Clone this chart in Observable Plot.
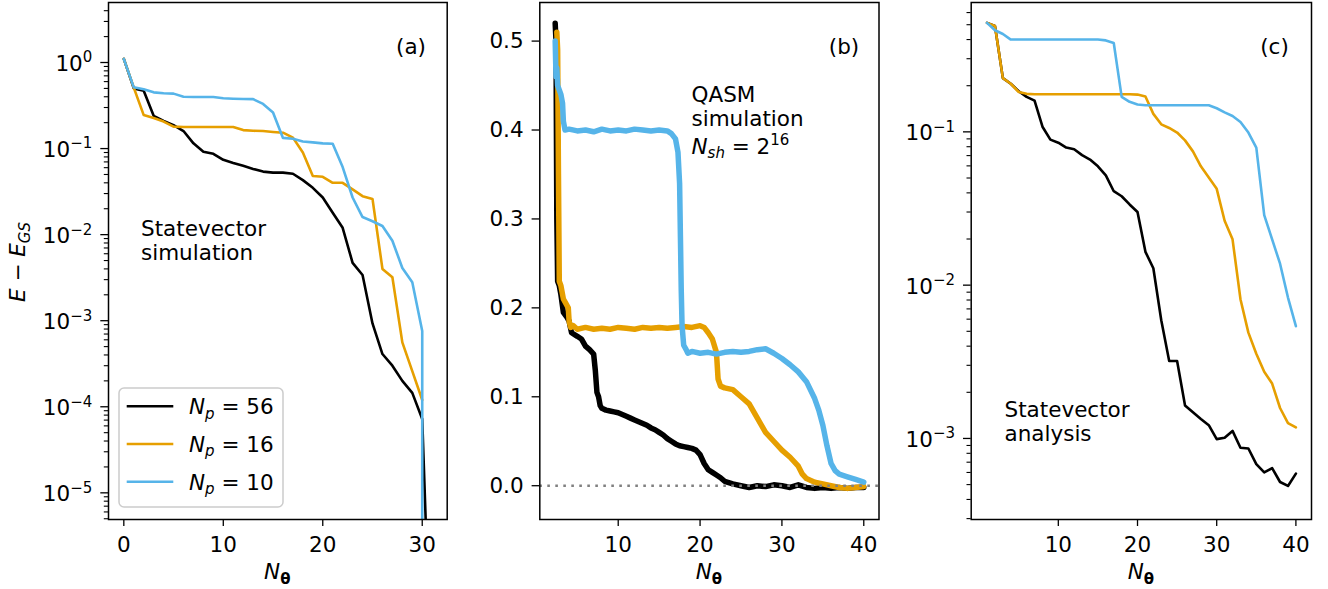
<!DOCTYPE html>
<html><head><meta charset="utf-8">
<script src="https://cdn.jsdelivr.net/npm/d3@7"></script>
<script src="https://cdn.jsdelivr.net/npm/@observablehq/plot@0.6"></script>
<style>
body{margin:0;background:#fff;}
#wrap{position:relative;width:1328px;height:589px;overflow:hidden;background:#fff;font-family:"DejaVu Sans",sans-serif;}
#wrap svg{position:absolute;top:0;}
</style></head>
<body><div id="wrap"></div>
<script>
// ---------- series ----------
const seriesNp = ["56", "16", "10"];
const seriesColors = ["#000000", "#E69F00", "#56B4E9"];

// ---------- panel (a): statevector simulation ----------
const aX56 = [0,1,2,3,4,5,6,7,8,9,10,11,12,13,14,15,16,17,18,19,20,21,22,23,24,25,26,27,28,29,30,31];
const aY56 = [1.1,0.50,0.47,0.24,0.21,0.187,0.16,0.115,0.092,0.087,0.074,0.068,0.063,0.058,0.054,0.0525,0.0525,0.051,0.043,0.035,0.027,0.018,0.012,0.0047,0.0034,0.00093,0.00041,0.0003,0.0002,0.000145,0.000072,3e-8];
const aX16 = [0,1,2,3,4,5,6,7,8,9,10,11,12,13,14,15,16,17,18,19,20,21,22,23,24,25,26,27,28,29,30];
const aY16 = [1.1,0.51,0.245,0.226,0.206,0.18,0.178,0.178,0.178,0.178,0.178,0.178,0.164,0.161,0.16,0.156,0.153,0.134,0.09,0.048,0.047,0.040,0.040,0.0335,0.028,0.026,0.004,0.0032,0.00056,0.00026,0.00012];
const aX10 = [0,1,2,3,4,5,6,7,8,9,10,11,12,13,14,15,16,17,18,19,20,21,22,23,24,25,26,27,28,29,30,30];
const aY10 = [1.1,0.515,0.49,0.45,0.44,0.435,0.40,0.397,0.397,0.397,0.385,0.38,0.377,0.375,0.33,0.263,0.133,0.13,0.121,0.118,0.115,0.114,0.061,0.027,0.016,0.0143,0.0126,0.0085,0.0041,0.0028,0.00076,1e-9];

// ---------- panel (b): QASM simulation ----------
const bX56 = [2.3,2.4,2.5,2.6,2.8,3.0,3.3,3.7,4.0,4.3,5,5.5,6,6.5,7.0,7.2,7.4,7.6,7.8,8,8.5,9,9.5,10,10.5,11,11.5,12,12.5,13,13.5,14,14.5,15,15.5,16,16.5,17,17.5,18,18.5,19,19.5,20,20.5,21,21.5,22,22.5,23,24,25,26,27,28,29,30,31,32,33,34,35,36,37,38,39,40];
const bY56 = [0.52,0.50,0.30,0.23,0.225,0.215,0.195,0.19,0.185,0.172,0.168,0.165,0.157,0.153,0.148,0.13,0.105,0.10,0.09,0.087,0.085,0.084,0.083,0.082,0.08,0.078,0.076,0.074,0.072,0.07,0.068,0.065,0.063,0.06,0.057,0.053,0.05,0.047,0.045,0.044,0.043,0.042,0.04,0.035,0.025,0.018,0.015,0.012,0.009,0.005,0.002,0.0,-0.002,0.0,-0.001,0.001,0.0,-0.002,0.001,-0.002,-0.003,-0.002,-0.003,-0.002,-0.003,-0.002,-0.002];
const bX16 = [2.5,2.6,2.7,2.8,3.0,3.3,3.6,3.9,4.0,4.2,4.5,5,6,7,8,9,10,11,12,13,14,15,16,17,18,19,20,20.5,21,21.5,22,22.2,22.5,23,24,25,26,27,28,29,30,31,32,32.5,33,34,35,36,37,38,39,40];
const bY16 = [0.51,0.49,0.35,0.23,0.225,0.21,0.205,0.20,0.185,0.178,0.18,0.176,0.178,0.176,0.177,0.176,0.178,0.177,0.176,0.178,0.177,0.178,0.177,0.178,0.179,0.178,0.18,0.178,0.172,0.165,0.15,0.12,0.112,0.11,0.108,0.10,0.092,0.076,0.06,0.05,0.04,0.032,0.022,0.013,0.008,0.004,0.002,0.0,-0.002,-0.003,-0.002,-0.001];
const bX10 = [2.3,2.4,2.5,2.6,2.8,3.0,3.2,3.3,3.5,4,5,6,7,8,9,10,11,12,13,14,15,16,16.5,17,17.3,17.5,17.6,17.7,17.8,18,18.3,18.5,19,20,21,22,23,24,25,26,27,28,29,30,31,32,33,34,34.5,35,35.5,36,36.5,37,38,39,40];
const bY10 = [0.50,0.46,0.47,0.45,0.445,0.44,0.43,0.41,0.40,0.401,0.399,0.400,0.398,0.401,0.399,0.400,0.399,0.401,0.400,0.399,0.400,0.399,0.396,0.39,0.375,0.34,0.28,0.22,0.18,0.158,0.153,0.149,0.151,0.149,0.150,0.148,0.150,0.151,0.150,0.151,0.153,0.154,0.149,0.143,0.136,0.128,0.117,0.098,0.085,0.068,0.045,0.025,0.017,0.013,0.010,0.007,0.004];
const bZero = [0];

// ---------- panel (c): statevector analysis ----------
const cX = [1,2,3,4,5,6,7,8,9,10,11,12,13,14,15,16,17,18,19,20,21,22,23,24,25,26,27,28,29,30,31,32,33,34,35,36,37,38,39,40];
const cY56 = [0.514,0.49,0.224,0.206,0.184,0.169,0.16,0.108,0.089,0.085,0.079,0.077,0.0705,0.066,0.0596,0.052,0.041,0.038,0.0336,0.030,0.0165,0.0129,0.0059,0.0032,0.0032,0.00164,0.00148,0.00134,0.00122,0.00099,0.00101,0.00112,0.00087,0.00086,0.00068,0.0006,0.00064,0.00052,0.00049,0.00059];
const cY16 = [0.514,0.49,0.224,0.206,0.182,0.177,0.176,0.176,0.176,0.176,0.176,0.176,0.176,0.176,0.176,0.176,0.176,0.176,0.176,0.175,0.17,0.131,0.112,0.106,0.099,0.088,0.0746,0.0596,0.0503,0.0425,0.0263,0.0199,0.0081,0.0049,0.00357,0.00272,0.00228,0.00158,0.00126,0.00118];
const cY10 = [0.514,0.46,0.435,0.40,0.40,0.40,0.40,0.40,0.40,0.40,0.40,0.40,0.40,0.40,0.40,0.395,0.38,0.169,0.157,0.151,0.149,0.149,0.149,0.149,0.149,0.149,0.149,0.149,0.149,0.1426,0.134,0.127,0.116,0.099,0.079,0.0286,0.0199,0.0138,0.0083,0.0054];

// ---------- tick labels ----------
const aXTicks = [0, 10, 20, 30];
const bXTicks = [10, 20, 30, 40];
const cXTicks = [10, 20, 30, 40];
const aYMajor = [1e-5, 1e-4, 1e-3, 1e-2, 1e-1, 1];
const bYTicks = [0, 0.1, 0.2, 0.3, 0.4, 0.5];
const cYMajor = [1e-3, 1e-2, 1e-1];

// ---------- helpers ----------
const FS = 21.5;
const rows = (xs, ys) => xs.map((x, i) => ({x, y: ys[i]}));
function minorLog(lo, hi) {
  const out = [];
  for (let e = Math.floor(Math.log10(lo)) - 1; e <= Math.ceil(Math.log10(hi)); e++)
    for (let k = 2; k <= 9; k++) { const v = k * Math.pow(10, e); if (v >= lo && v <= hi) out.push(v); }
  return out;
}
const logFmt = d => "10^" + String(Math.round(Math.log10(d))).replace("-", "\u2212");
const baseStyle = {background: "transparent", fontFamily: "DejaVu Sans", fontSize: FS + "px", color: "black", overflow: "visible"};
const NS = "http://www.w3.org/2000/svg";
function supify(svg) {
  svg.querySelectorAll("text").forEach(t => {
    const m = t.textContent.match(/^10\^(.+)$/);
    if (!m) return;
    t.textContent = "";
    const a = document.createElementNS(NS, "tspan"); a.textContent = "10"; a.setAttribute("dy", "1.5"); t.appendChild(a);
    const b = document.createElementNS(NS, "tspan"); b.textContent = m[1]; b.setAttribute("dy", "-8.5"); b.setAttribute("font-size", "15px"); t.appendChild(b);
  });
}
function lineMarks(sets, sw) {
  return sets.map((d, i) => Plot.line(d, {x: "x", y: "y", stroke: seriesColors[i], strokeWidth: sw, clip: true}));
}
const axX = ticks => Plot.axisX(ticks, {tickSize: 7, tickPadding: 10, fontSize: FS, strokeWidth: 1.3, label: null});
const axYMajor = (ticks, fmt) => Plot.axisY(ticks, {tickSize: 7.7, tickPadding: 8.5, fontSize: FS, strokeWidth: 1.3, tickFormat: fmt, label: null});
const axYMinor = ticks => Plot.axisY(ticks, {tickSize: 4.2, tickPadding: 0, strokeWidth: 1.1, tickFormat: () => "", label: null});

const wrap = document.getElementById("wrap");

// ---------- panel (a) ----------
const aDom = [4.9e-6, 4.98];
const svgA = Plot.plot({
  width: 460, height: 589, marginLeft: 108, marginRight: 13.3, marginTop: 2, marginBottom: 70,
  style: baseStyle,
  x: {domain: [-1.54, 32.51], label: null},
  y: {type: "log", domain: aDom, label: null},
  marks: [
    ...lineMarks([rows(aX56, aY56), rows(aX16, aY16), rows(aX10, aY10)], 2.6),
    axX(aXTicks),
    axYMajor(aYMajor, logFmt),
    axYMinor(minorLog(aDom[0], aDom[1])),
    Plot.frame({stroke: "black", strokeWidth: 1.5})
  ]
});
svgA.style.left = "0px"; supify(svgA); wrap.appendChild(svgA);

// ---------- panel (b) ----------
const svgB = Plot.plot({
  width: 430, height: 589, marginLeft: 79.3, marginRight: 11.5, marginTop: 2, marginBottom: 70,
  style: baseStyle,
  x: {domain: [0.42, 41.86], label: null},
  y: {domain: [-0.038, 0.5434], label: null},
  marks: [
    ...lineMarks([rows(bX56, bY56), rows(bX16, bY16), rows(bX10, bY10)], 5.5),
    Plot.ruleY(bZero, {stroke: "#808080", strokeWidth: 2.6, strokeDasharray: "2.6,5.4"}),
    axX(bXTicks),
    axYMajor(bYTicks, d3.format(".1f")),
    Plot.frame({stroke: "black", strokeWidth: 1.5})
  ]
});
svgB.style.left = "460px"; wrap.appendChild(svgB);

// ---------- panel (c) ----------
const cDom = [2.96e-4, 0.698];
const svgC = Plot.plot({
  width: 438, height: 589, marginLeft: 80.7, marginRight: 17, marginTop: 2, marginBottom: 70,
  style: baseStyle,
  x: {domain: [-1.0, 41.97], label: null},
  y: {type: "log", domain: cDom, label: null},
  marks: [
    ...lineMarks([rows(cX, cY56), rows(cX, cY16), rows(cX, cY10)], 2.6),
    axX(cXTicks),
    axYMajor(cYMajor, logFmt),
    axYMinor(minorLog(cDom[0], cDom[1])),
    Plot.frame({stroke: "black", strokeWidth: 1.5})
  ]
});
svgC.style.left = "890px"; supify(svgC); wrap.appendChild(svgC);

// ---------- overlay: annotations, legend, axis titles ----------
const ov = document.createElementNS(NS, "svg");
ov.setAttribute("width", 1328); ov.setAttribute("height", 589);
ov.style.left = "0px"; ov.style.pointerEvents = "none";
ov.setAttribute("font-family", "DejaVu Sans"); ov.setAttribute("font-size", FS);
const nTheta = x => `<text x="${x}" y="579" text-anchor="middle"><tspan font-style="italic">N</tspan><tspan font-size="15" font-weight="bold" dy="4.5">θ</tspan></text>`;
let legend = `<rect x="119" y="388" width="164" height="119" rx="5" fill="white" fill-opacity="0.8" stroke="#cccccc" stroke-width="1.5"/>`;
seriesNp.forEach((np, i) => {
  const y = 406.3 + i * 37.75;
  legend += `<line x1="126.7" x2="173.3" y1="${y}" y2="${y}" stroke="${seriesColors[i]}" stroke-width="2.6"/>`;
  legend += `<text x="189" y="${y + 7.7}"><tspan font-style="italic">N</tspan><tspan font-style="italic" font-size="15" dy="4.5">p</tspan><tspan dy="-4.5"> = ${np}</tspan></text>`;
});
ov.innerHTML = `
<text x="411" y="54" text-anchor="middle">(a)</text>
<text x="141" y="236">Statevector</text>
<text x="141" y="260">simulation</text>
<text x="844" y="54" text-anchor="middle">(b)</text>
<text x="691.5" y="101.5">QASM</text>
<text x="691.5" y="126">simulation</text>
<text x="691.5" y="153.5"><tspan font-style="italic">N</tspan><tspan font-style="italic" font-size="15" dy="4.5">sh</tspan><tspan dy="-4.5"> = 2</tspan><tspan font-size="15" dy="-9">16</tspan></text>
<text x="1274.5" y="54" text-anchor="middle">(c)</text>
<text x="1004.5" y="416.8">Statevector</text>
<text x="1004.5" y="441.3">analysis</text>
${nTheta(277.3)}${nTheta(708.9)}${nTheta(1140.9)}
<text transform="translate(25,262) rotate(-90)" text-anchor="middle"><tspan font-style="italic">E</tspan> \u2212 <tspan font-style="italic">E</tspan><tspan font-style="italic" font-size="15" dy="4.5">GS</tspan></text>
${legend}`;
wrap.appendChild(ov);
</script>
</body></html>
